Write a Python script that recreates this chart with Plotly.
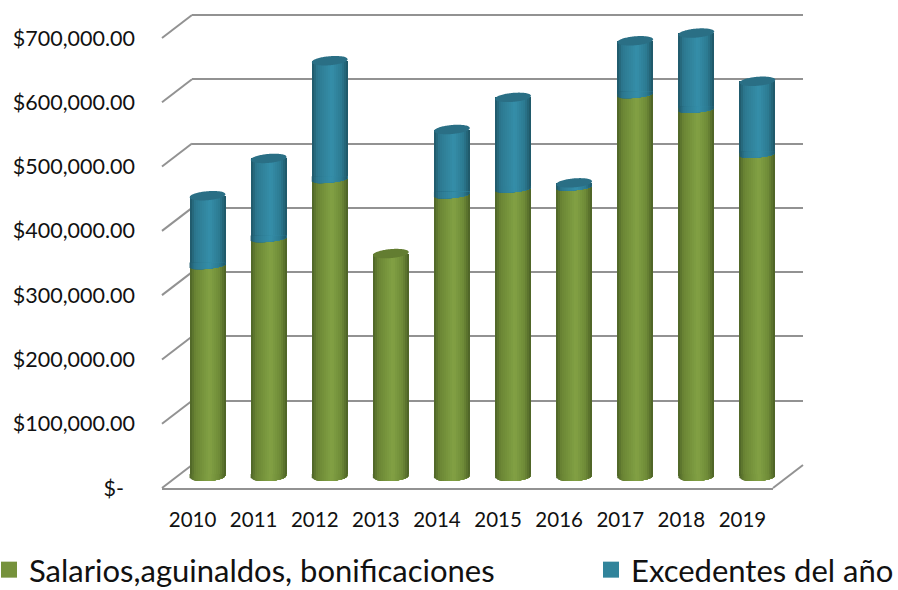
import plotly.graph_objects as go

years = [2010, 2011, 2012, 2013, 2014, 2015, 2016, 2017, 2018, 2019]
salarios = [329000, 371000, 463000, 346000, 439000, 448000, 451000, 595000, 572000, 502000]
excedentes = [107000, 123000, 183000, 0, 100000, 141000, 5000, 82000, 117000, 112000]
y_ticks = [0, 100000, 200000, 300000, 400000, 500000, 600000, 700000]
y_labels = ["$-  ", "$100,000.00", "$200,000.00", "$300,000.00", "$400,000.00",
            "$500,000.00", "$600,000.00", "$700,000.00"]
names = ["Salarios,aguinaldos, bonificaciones", "Excedentes del año"]

W, H = 898, 590
PX = 450 / 700000          # pixels per currency unit
STEP = 61.1                # pixels per year
BAR_W, N = 36, 18
GRID = "#929292"
FONT = "Lato"
GREEN = [(0, "#4d6326"), (.15, "#6a8534"), (.55, "#82a144"), (.82, "#6e8a37"), (1, "#4b6025")]
BLUE = [(0, "#1f5667"), (.15, "#2c788f"), (.55, "#358ea9"), (.82, "#2c7a91"), (1, "#1e5464")]
CAP = {"g": "#637d31", "b": "#2a6f85"}


def hex2rgb(c):
    return [int(c[i:i + 2], 16) for i in (1, 3, 5)]


def ramp(stops, t):
    for (a, ca), (b, cb) in zip(stops, stops[1:]):
        if t <= b:
            f = (t - a) / (b - a)
            r = [round(p + (q - p) * f) for p, q in zip(hex2rgb(ca), hex2rgb(cb))]
            return "rgb(%d,%d,%d)" % tuple(r)
    return stops[-1][1]


def dx(px_):
    return px_ / STEP


def dy(px_):
    return px_ / PX


def xdom(a, b):
    return [a / W, b / W]


def ydom(bottom, top):
    return [(H - bottom) / H, (H - top) / H]


fig = go.Figure()
# an empty trace keeps the back-wall subplot (and its grid lines) alive
fig.add_scatter(x=[None], y=[None], xaxis="x2", yaxis="y2", showlegend=False, hoverinfo="skip")
strip = BAR_W / N
for k in range(N):
    t = (k + .5) / N
    off = dx(-BAR_W / 2 + k * strip)
    wid = dx(BAR_W - k * strip)
    fig.add_bar(x=years, y=salarios, xaxis="x3", yaxis="y3", width=wid, offset=off,
                marker=dict(color=ramp(GREEN, t), line_width=0), showlegend=False, hoverinfo="skip")
    fig.add_bar(x=years, y=excedentes, base=salarios, xaxis="x3", yaxis="y3", width=wid, offset=off,
                marker=dict(color=ramp(BLUE, t), line_width=0), showlegend=False, hoverinfo="skip")

# legend keys
fig.add_scatter(x=[None], y=[None], mode="markers", name=names[0], legend="legend",
                marker=dict(symbol="square", size=18, color="#76923c"))
fig.add_scatter(x=[None], y=[None], mode="markers", name=names[1], legend="legend2",
                marker=dict(symbol="square", size=18, color="#31849b"))

shapes = []


def arc_strip(year, base, k, color, b, tilt):
    # lower front rim of a cylinder section, from strip k to the right edge
    a = BAR_W / 2 - .5
    x_left = -BAR_W / 2 + k * strip
    pts = []
    m = 8
    for i in range(m + 1):
        xp = x_left + (a - x_left) * i / m
        u = max(-1, xp / a)
        yp = -b * max(0, 1 - u * u) ** .5 + tilt * (u - 1)
        pts.append((xp, yp))
    path = "M %f %f " % (year + dx(x_left), base + dy(2))
    path += " ".join("L %f %f" % (year + dx(xp), base + dy(yp)) for xp, yp in pts)
    path += " L %f %f Z" % (year + dx(a), base + dy(2))
    return dict(type="path", xref="x3", yref="y3", path=path, fillcolor=color, line_width=0, layer="above")


for idx, yr in enumerate(years):
    for k in range(N):
        shapes.append(arc_strip(yr, 0, k, ramp(GREEN, (k + .5) / N), 4, 1))
for idx, yr in enumerate(years):
    if excedentes[idx] > 0:
        for k in range(N):
            shapes.append(arc_strip(yr, salarios[idx], k, ramp(BLUE, (k + .5) / N), 2.5, 1.75))
# top caps
for idx, yr in enumerate(years):
    top = salarios[idx] + excedentes[idx]
    col = CAP["b"] if excedentes[idx] > 0 else CAP["g"]
    a, b, tilt = BAR_W / 2, 4.5, 1.5
    pts = []
    for i in range(41):
        u = -1 + 2 * i / 40
        pts.append((a * u, b * (1 - u * u) ** .5 + tilt * u))
    for i in range(1, 40):
        u = 1 - 2 * i / 40
        pts.append((a * u, -b * (1 - u * u) ** .5 + tilt * u))
    path = "M " + " L ".join("%f %f" % (yr + dx(p), top + dy(q)) for p, q in pts) + " Z"
    shapes.append(dict(type="path", xref="x3", yref="y3", path=path, fillcolor=col, line_width=0, layer="above"))

# side-wall edges and floor, below the bars
for v in y_ticks:
    y0 = (H - (488 - v * PX)) / H
    y1 = (H - (465 - v * PX)) / H
    shapes.append(dict(type="line", xref="paper", yref="paper", x0=162 / W, x1=192 / W, y0=y0, y1=y1,
                       line=dict(color=GRID, width=2), layer="below"))
shapes.append(dict(type="line", xref="paper", yref="paper", x0=773 / W, x1=803 / W,
                   y0=(H - 488) / H, y1=(H - 465) / H, line=dict(color=GRID, width=2), layer="below"))

fig.update_layout(
    width=W, height=H, autosize=False, margin=dict(l=0, r=0, t=0, b=0, autoexpand=False),
    paper_bgcolor="white", plot_bgcolor="rgba(0,0,0,0)", barmode="overlay", bargap=0,
    font=dict(family=FONT, color="#111111"), shapes=shapes,
    xaxis=dict(domain=xdom(162, 773), range=[2009.5, 2019.5], anchor="y", tickvals=years,
               ticktext=[str(y) for y in years], showgrid=False, zeroline=False, showline=True,
               linecolor=GRID, linewidth=2, ticks="", ticklabelstandoff=12, tickfont=dict(size=20.5),
               automargin=False),
    yaxis=dict(domain=ydom(488, 0), range=[0, 488 / PX], anchor="x", tickvals=y_ticks, ticktext=y_labels,
               showgrid=False, zeroline=False, showline=False, ticks="", ticklabelstandoff=26,
               tickfont=dict(size=21.5), automargin=False),
    xaxis2=dict(domain=xdom(192, 803), range=[0, 1], anchor="y2", showgrid=False, zeroline=False,
                showline=False, ticks="", showticklabels=False),
    yaxis2=dict(domain=ydom(465, 0), range=[0, 465 / PX], anchor="x2", tickvals=y_ticks, showgrid=True,
                gridcolor=GRID, gridwidth=2, zeroline=False, showline=False, ticks="", showticklabels=False),
    xaxis3=dict(domain=xdom(177, 788), range=[2009.5, 2019.5], anchor="y3", showgrid=False, zeroline=False,
                showline=False, ticks="", showticklabels=False),
    yaxis3=dict(domain=ydom(492, 0), range=[-16 / PX, 476 / PX], anchor="x3", showgrid=False, zeroline=False,
                showline=False, ticks="", showticklabels=False),
    legend=dict(x=-11 / W, y=(H - 543) / H, xanchor="left", yanchor="top", orientation="h",
                bgcolor="rgba(0,0,0,0)", font=dict(size=31, family=FONT), itemsizing="trace"),
    legend2=dict(x=591 / W, y=(H - 543) / H, xanchor="left", yanchor="top", orientation="h",
                 bgcolor="rgba(0,0,0,0)", font=dict(size=31, family=FONT), itemsizing="trace"),
)
fig.write_html("out.html", config=dict(displayModeBar=False),
               post_script="document.body.style.margin='0';document.body.style.overflow='hidden';")
